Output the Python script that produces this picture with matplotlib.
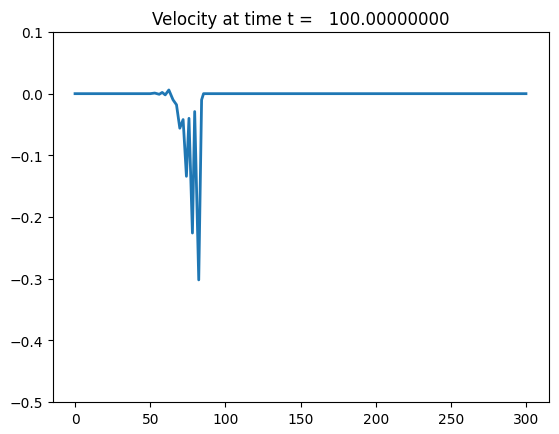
import matplotlib
matplotlib.use("Agg")
import matplotlib.pyplot as plt

x_vals = [0, 50, 53, 56, 58, 60, 62.4, 65.2, 67.5, 69.7, 71.9, 74.1, 75.8, 78.1, 79.6, 82.3, 84.2, 85.5, 300]
v_vals = [0.0, 0.0, 0.001, -0.001, 0.002, -0.002, 0.006, -0.010, -0.018, -0.056, -0.042, -0.134, -0.040, -0.226, -0.029, -0.302, -0.010, 0.0, 0.0]
title = "Velocity at time t =   100.00000000"

W, H = 559, 435
fig = plt.figure(figsize=(W / 100, H / 100), dpi=100)
ax = fig.add_axes([52.5 / W, (H - 403) / H, 496 / W, 370 / H])
ax.plot(x_vals, v_vals, color="#1f77b4", linewidth=2)
ax.set_ylim(-0.5, 0.1)
ax.set_title(title)
fig.savefig("out.png", dpi=100)
